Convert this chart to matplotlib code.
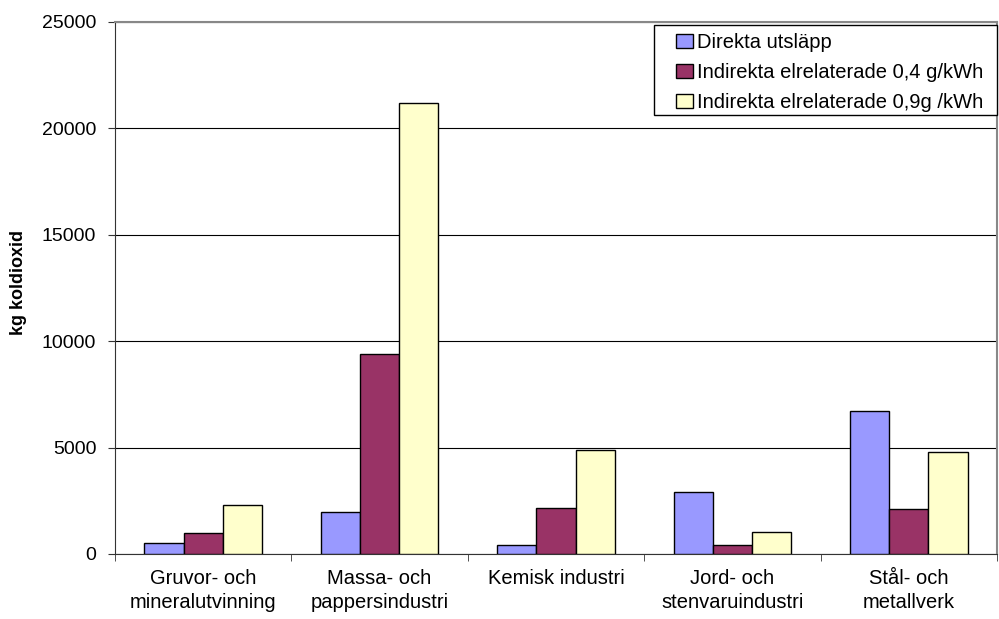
import numpy as np
import matplotlib.pyplot as plt
from matplotlib.patches import Rectangle
from matplotlib.legend_handler import HandlerPatch

plt.rcParams["font.family"] = ["Liberation Sans", "DejaVu Sans"]

# %%
kategorier = ["Gruvor- och\nmineralutvinning", "Massa- och\npappersindustri",
              "Kemisk industri", "Jord- och\nstenvaruindustri", "Stål- och\nmetallverk"]
direkta = [530, 1980, 430, 2900, 6730]
indirekta_04 = [1010, 9420, 2150, 440, 2100]
indirekta_09 = [2300, 21200, 4870, 1030, 4770]
serier = ["Direkta utsläpp", "Indirekta elrelaterade 0,4 g/kWh",
          "Indirekta elrelaterade 0,9g /kWh"]
farger = ["#9999FF", "#993366", "#FFFFCC"]

# %%
fig = plt.figure(figsize=(9.99, 6.19), dpi=100)
ax = fig.add_axes([115 / 999, 1 - 554 / 619, 882 / 999, 532 / 619])

x = np.arange(len(kategorier))
b = 1 / 4.5
for i, (vals, namn, f) in enumerate(zip([direkta, indirekta_04, indirekta_09], serier, farger)):
    ax.bar(x + (i - 1) * b, vals, b, color=f, edgecolor="black", linewidth=1,
           label=namn, zorder=3)

# legend frame drawn as its own box
ax.add_patch(Rectangle((654 / 999, 1 - 115 / 619), 343 / 999, 90 / 619,
                       transform=fig.transFigure, facecolor="white",
                       edgecolor="black", linewidth=1, zorder=4.5, clip_on=False))

ax.set_xlim(-0.5, len(kategorier) - 0.5)
ax.set_ylim(0, 25000)
ax.set_yticks(np.arange(0, 25001, 5000))
ax.yaxis.grid(True, color="black", linewidth=0.8, zorder=0)
ax.set_xticks(x)
ax.set_xticklabels(kategorier, fontsize=14.5, linespacing=1.3)
ax.set_xticks(np.arange(-0.5, len(kategorier)), minor=True)
ax.tick_params(axis="x", which="major", length=0, pad=11)
ax.tick_params(axis="x", which="minor", length=5, direction="out", color="#333333")
ax.tick_params(axis="y", length=5, direction="out", labelsize=14, color="#333333", pad=8.5)
ax.set_ylabel("kg koldioxid", fontsize=13, fontweight="bold", labelpad=9)
ax.yaxis.set_label_coords(-0.1, 0.51)

for s in ["top", "right"]:
    ax.spines[s].set_color("#888888")
    ax.spines[s].set_linewidth(1.5)
ax.spines["left"].set_color("#333333")
ax.spines["bottom"].set_color("#333333")


# %% legend: small square handle sitting at the right of the handle box
def ruta(legend, orig, xd, yd, w, h, fs):
    s = 9.0
    return Rectangle((w - s - xd, (h - s) / 2 - yd), s, s)


leg = ax.legend(loc="upper right", fontsize=14.5, frameon=False,
                handlelength=0.85, handleheight=0.7, handletextpad=0.2,
                borderpad=0.39, labelspacing=0.56, borderaxespad=0,
                handler_map={Rectangle: HandlerPatch(patch_func=ruta)})
leg.set_bbox_to_anchor((991 / 999, 1 - 25 / 619), transform=fig.transFigure)
leg.set_zorder(5)
for h in leg.legend_handles:
    h.set_edgecolor("black")
    h.set_linewidth(1)

fig.savefig("out.png", dpi=100)
